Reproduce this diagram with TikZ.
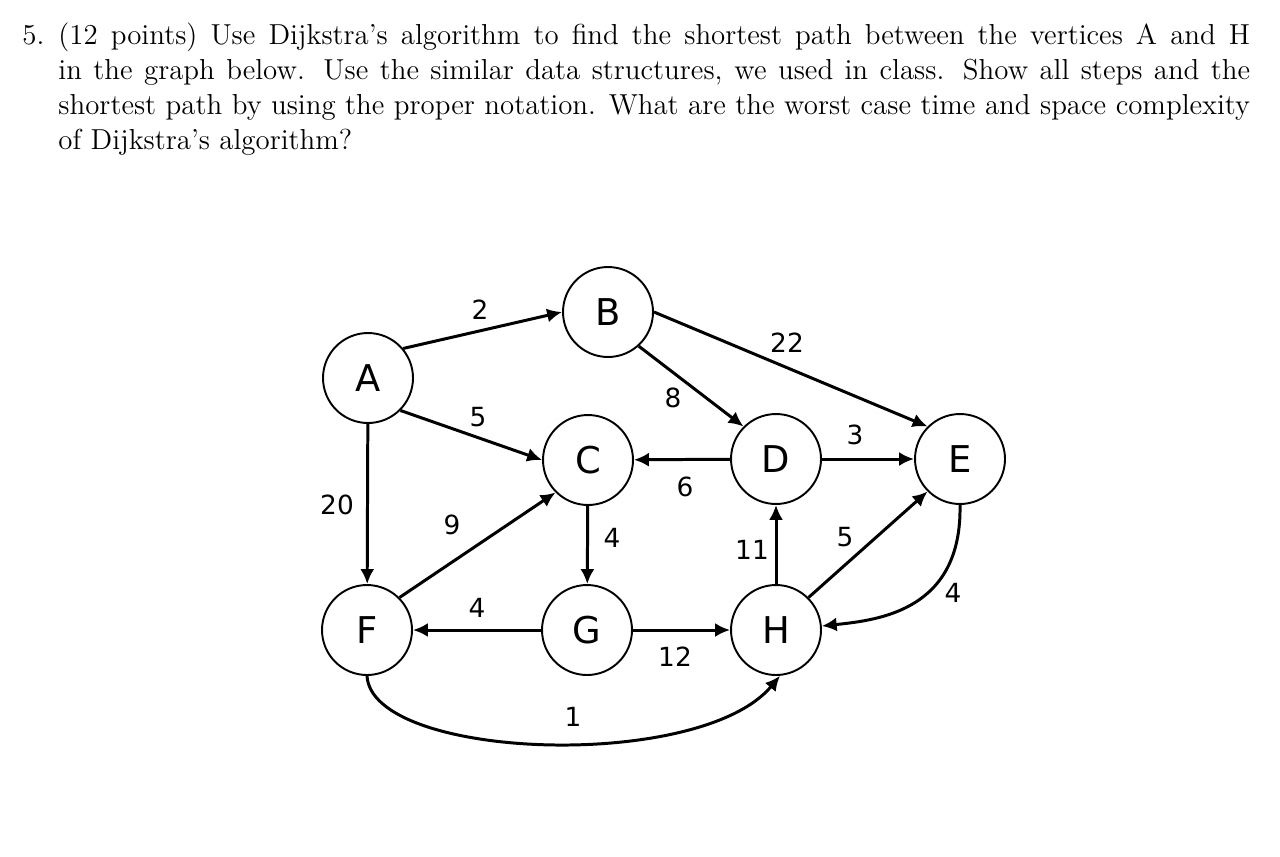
\documentclass[tikz,border=0pt]{standalone}
\usepackage{fontspec}
\newfontfamily\graphfont{DejaVu Sans}
\usetikzlibrary{arrows.meta}
\begin{document}
\begin{tikzpicture}[x=0.02cm, y=-0.02cm, >={Latex[length=8.5pt,width=8pt]},
        vertex/.style={draw, circle, line width=1.1pt, minimum size=1.8cm, inner sep=0pt, font=\graphfont\fontsize{21}{24}\selectfont},
        wt/.style={inner sep=0pt, font=\graphfont\fontsize{15}{17}\selectfont},
        arc/.style={->, line width=1.7pt},
        qline/.style={anchor=base west, inner sep=0pt, scale=1.37, transform shape, font=\fontsize{12}{14.5}\selectfont}]
      \useasboundingbox (0,0) rectangle (1280,856);
      \node[qline] (qnum) at (22,44) {5.};
      \node[qline] (q1) at (58,44)  {\makebox[17.40cm][s]{(12 points) Use Dijkstra's algorithm to find the shortest path between the vertices A and H}};
      \node[qline] (q2) at (58,79)  {\makebox[17.40cm][s]{in the graph below. Use the similar data structures, we used in class. Show all steps and the}};
      \node[qline] (q3) at (58,114) {\makebox[17.40cm][s]{shortest path by using the proper notation. What are the worst case time and space complexity}};
      \node[qline] (q4) at (58,149) {of Dijkstra's algorithm?};
      \node[vertex] (A) at (368,378) {A};
      \node[vertex] (B) at (608,312) {B};
      \node[vertex] (C) at (588,460) {C};
      \node[vertex] (D) at (776,459) {D};
      \node[vertex] (E) at (960,459) {E};
      \node[vertex] (F) at (367,630) {F};
      \node[vertex] (G) at (587,630) {G};
      \node[vertex] (H) at (776,630) {H};
      \draw[arc] (A.40) -- (B.west);
      \draw[arc] (A.-45) -- (C.west);
      \draw[arc] (A) -- (F);
      \draw[arc] (B.-48) -- (D.135);
      \draw[arc] (B.east) -- (E.135);
      \draw[arc] (D) -- (C);
      \draw[arc] (D) -- (E);
      \draw[arc] (C) -- (G);
      \draw[arc] (F.45) -- (C.-135);
      \draw[arc] (G) -- (F);
      \draw[arc] (G) -- (H);
      \draw[arc] (H) -- (D);
      \draw[arc] (H.45) -- (E.-135);
      \draw[arc] (E.south) .. controls (962,610) and (880,620) .. (H.5);
      \draw[arc] (F.south) .. controls (372,760) and (700,772) .. (H.-85);
      \node[wt] (wAB) at (480,310) {2};
      \node[wt] (wAC) at (478,417) {5};
      \node[wt] (wAF) at (337,505) {20};
      \node[wt] (wBD) at (673,398) {8};
      \node[wt] (wBE) at (787,343) {22};
      \node[wt] (wDC) at (685,487) {6};
      \node[wt] (wDE) at (855,435) {3};
      \node[wt] (wCG) at (612,538) {4};
      \node[wt] (wFC) at (452,525) {9};
      \node[wt] (wGF) at (477,608) {4};
      \node[wt] (wGH) at (675,657) {12};
      \node[wt] (wHD) at (752,550) {11};
      \node[wt] (wHE) at (845,537) {5};
      \node[wt] (wEH) at (953,593) {4};
      \node[wt] (wFH) at (573,717) {1};
    \end{tikzpicture}
\end{document}
